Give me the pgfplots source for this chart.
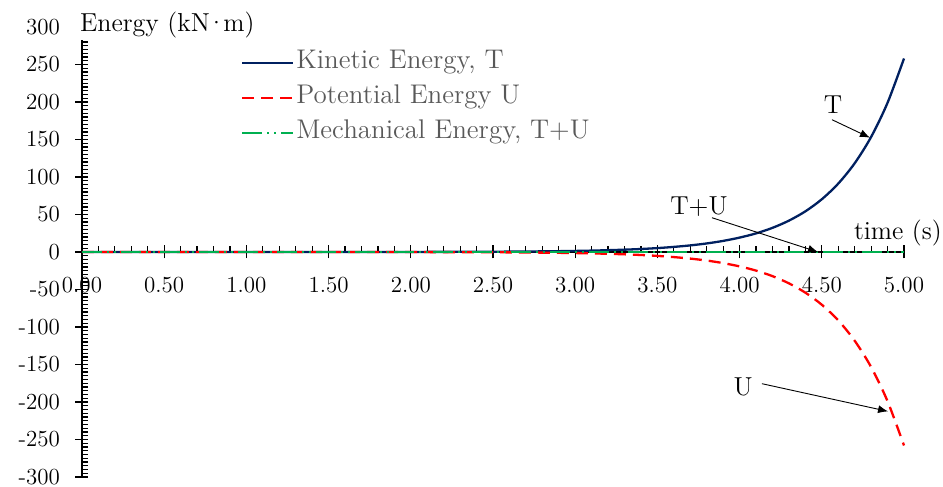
\documentclass[border=0pt]{standalone}
\usepackage{fontspec}
\usepackage{pgfplots}
\pgfplotsset{compat=1.18}
\usetikzlibrary{arrows.meta}
\definecolor{tblue}{RGB}{0,32,96}
\definecolor{ured}{RGB}{255,0,0}
\definecolor{mgreen}{RGB}{0,176,80}
\definecolor{leggray}{RGB}{89,89,89}
\begin{document}
\begin{tikzpicture}
\useasboundingbox (0,0) rectangle (471.5pt,243.5pt);
\begin{axis}[
  at={(41pt,5pt)}, anchor=south west,
  scale only axis, width=411pt, height=225pt,
  xmin=0, xmax=5, ymin=-300, ymax=300,
  axis x line*=middle, axis y line*=left,
  axis line style={line width=0.9pt, black},
  xtick={0,0.5,1,1.5,2,2.5,3,3.5,4,4.5,5},
  xticklabels={0.00,0.50,1.00,1.50,2.00,2.50,3.00,3.50,4.00,4.50,5.00},
  minor x tick num=4,
  ytick={-300,-250,-200,-150,-100,-50,0,50,100,150,200,250,300},
  yticklabels={{-300},{-250},{-200},{-150},{-100},{-50},{0},{50},{100},{150},{200},{250},{300}},
  minor y tick num=9,
  tick align=center,
  major tick length=6.5pt, minor tick length=2.8pt,
  tick style={black, line width=0.6pt},
  every minor x tick/.append style={yshift=1.4pt},
  every minor y tick/.append style={xshift=1.4pt},
  hide obscured x ticks=false, hide obscured y ticks=false,
  tick label style={font=\fontsize{11.5}{13}\selectfont},
  xticklabel style={anchor=base, yshift=-17pt, inner sep=0pt},
  yticklabel style={anchor=east, inner sep=0pt, xshift=-7.6pt},
  clip=false,
  legend style={at={(axis cs:0.967,265)}, anchor=north west, draw=none, fill=none,
    inner sep=0pt, outer sep=0pt, font=\fontsize{13.5}{15}\selectfont, text=leggray,
    row sep=7.5pt, column sep=1pt,
    nodes={inner sep=0pt, text height=0.75em, text depth=0.25em}},
  legend cell align=left,
  legend image code/.code={\draw[#1] (0pt,0pt) -- (25.5pt,0pt);},
]
\addplot[tblue, line width=1.15pt, smooth] coordinates {
(0,0) (0.5,0) (1,0.01) (1.5,0.03) (2,0.1) (2.2,0.18) (2.4,0.3) (2.5,0.39) (2.6,0.5) (2.7,0.65) (2.8,0.85) (2.9,1.1) (3,1.42) (3.1,1.85) (3.2,2.4) (3.3,3.1) (3.4,4.0) (3.5,5.2) (3.6,6.8) (3.7,8.8) (3.8,11.4) (3.9,14.8) (4,19.2) (4.1,24.8) (4.2,32.2) (4.3,41.8) (4.4,54.2) (4.5,70.3) (4.6,91.2) (4.7,118.3) (4.8,153.4) (4.9,199) (5,258)};
\addlegendentry{Kinetic Energy, T}
\addplot[ured, line width=1.15pt, dash pattern=on 6pt off 3.5pt, smooth] coordinates {
(0,0) (0.5,0) (1,-0.01) (1.5,-0.03) (2,-0.1) (2.2,-0.18) (2.4,-0.3) (2.5,-0.39) (2.6,-0.5) (2.7,-0.65) (2.8,-0.85) (2.9,-1.1) (3,-1.42) (3.1,-1.85) (3.2,-2.4) (3.3,-3.1) (3.4,-4.0) (3.5,-5.2) (3.6,-6.8) (3.7,-8.8) (3.8,-11.4) (3.9,-14.8) (4,-19.2) (4.1,-24.8) (4.2,-32.2) (4.3,-41.8) (4.4,-54.2) (4.5,-70.3) (4.6,-91.2) (4.7,-118.3) (4.8,-153.4) (4.9,-199) (5,-258)};
\addlegendentry{Potential Energy U}
\addplot[mgreen, line width=1.15pt, dash pattern=on 10pt off 2.5pt on 1pt off 2.5pt on 1pt off 2.5pt] coordinates {
(0,0) (0.5,0) (1,0) (1.5,0) (2,0) (2.5,0) (3,0) (3.5,0) (4,0) (4.5,0) (5,0)};
\addlegendentry{Mechanical Energy, T+U}
\node[anchor=base west, fill=white, inner ysep=1pt, inner xsep=5pt, font=\fontsize{13}{15}\selectfont] at (axis cs:-0.075,294) {Energy (kN\kern-0.12em·\kern-0.12em m)};
\node[anchor=base west, font=\fontsize{13}{15}\selectfont] at (axis cs:4.653,17.3) {time (s)};
\node[font=\fontsize{13}{15}\selectfont] at (axis cs:4.568,196) {T};
\draw[-{Latex[length=5pt,width=4pt]}, line width=0.45pt] (axis cs:4.562,176.4) -- (axis cs:4.793,152.4);
\node[font=\fontsize{13}{15}\selectfont] at (axis cs:3.753,60.4) {T+U};
\draw[-{Latex[length=5pt,width=4pt]}, line width=0.45pt] (axis cs:3.832,45.7) -- (axis cs:4.477,0);
\node[font=\fontsize{13}{15}\selectfont] at (axis cs:4.021,-179.2) {U};
\draw[-{Latex[length=5pt,width=4pt]}, line width=0.45pt] (axis cs:4.136,-175.6) -- (axis cs:4.903,-212.5);
\end{axis}
\end{tikzpicture}
\end{document}
